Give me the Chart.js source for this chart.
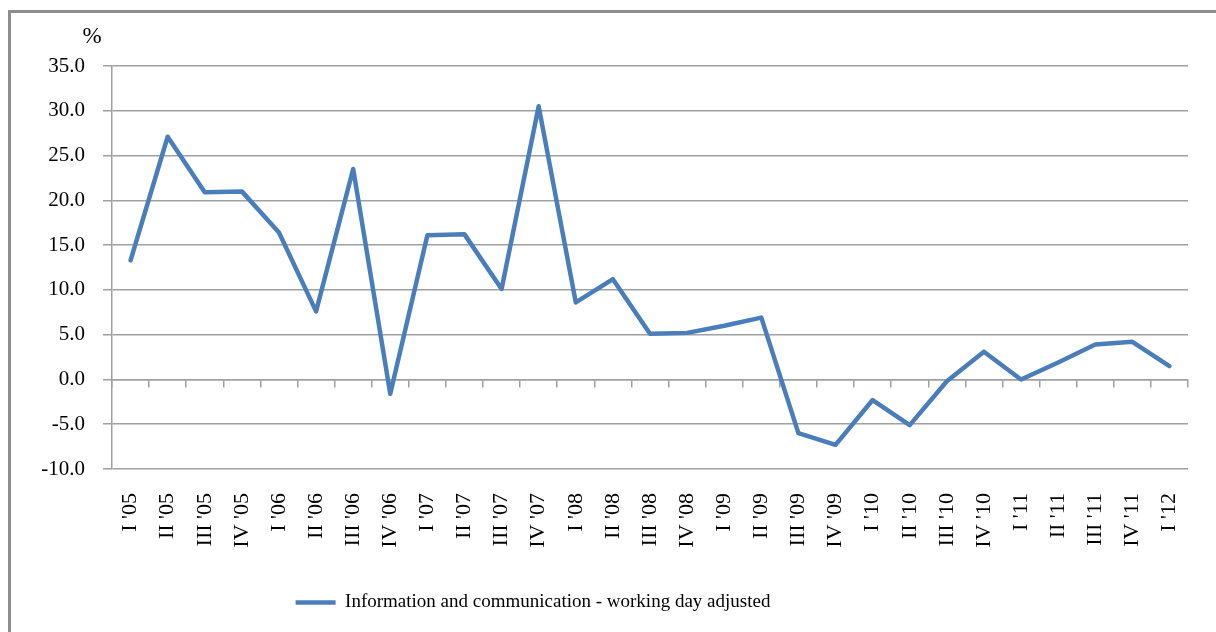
<!DOCTYPE html>
<html>
<head>
    <title>Information and communication</title>
    <script src="https://cdn.jsdelivr.net/npm/chart.js"></script>
    <style>
        html, body { margin: 0; padding: 0; background: #fff; overflow: hidden; }
        #frame { position: absolute; left: 8px; top: 10px; width: 1300px; height: 700px;
                 border-top: 3px solid #8d8d8d; border-left: 3px solid #8d8d8d; }
        #wrap { position: absolute; left: 0; top: 0; width: 1216px; height: 632px; }
    </style>
</head>
<body>
    <div id="frame"></div>
    <div id="wrap"><canvas id="ict-chart"></canvas></div>

    <script>
        const quarters = ["I '05", "II '05", "III '05", "IV '05",
                          "I '06", "II '06", "III '06", "IV '06",
                          "I '07", "II '07", "III '07", "IV '07",
                          "I '08", "II '08", "III '08", "IV '08",
                          "I '09", "II '09", "III '09", "IV '09",
                          "I '10", "II '10", "III '10", "IV '10",
                          "I '11", "II '11", "III '11", "IV '11",
                          "I '12"];
        const growth = [13.3, 27.1, 20.9, 21.0, 16.4, 7.6, 23.5, -1.6,
                        16.1, 16.2, 10.1, 30.5, 8.6, 11.2, 5.1, 5.2,
                        6.0, 6.9, -6.0, -7.3, -2.3, -5.1, -0.2, 3.1,
                        0.0, 1.9, 3.9, 4.2, 1.5];
        const seriesName = 'Information and communication - working day adjusted';
        const unitLabel = '%';

        const gridColor = '#a0a0a0';
        const serif = 'Liberation Serif';

        // draws the "%" above the value axis, and pulls the legend to the left like the original
        const extras = {
            id: 'extras',
            afterLayout(chart) {
                const lg = chart.legend;
                lg.left = 0;
                lg.right = 1066;
            },
            afterDraw(chart) {
                const ctx = chart.ctx;
                const area = chart.chartArea;
                ctx.save();
                ctx.font = '23px "' + serif + '"';
                ctx.fillStyle = '#000';
                ctx.textAlign = 'center';
                ctx.textBaseline = 'middle';
                ctx.fillText(unitLabel, area.left - 20, area.top - 29);
                ctx.restore();
            }
        };

        const ctx = document.getElementById('ict-chart').getContext('2d');
        new Chart(ctx, {
            type: 'line',
            data: {
                labels: quarters,
                datasets: [{
                    label: seriesName,
                    data: growth,
                    borderColor: '#4a7ebb',
                    backgroundColor: '#4a7ebb',
                    borderWidth: 4.5,
                    borderCapStyle: 'round',
                    borderJoinStyle: 'round',
                    pointRadius: 0,
                    tension: 0,
                    fill: false
                }]
            },
            options: {
                responsive: true,
                maintainAspectRatio: false,
                animation: false,
                layout: { padding: { top: 66, right: 28, bottom: 10, left: 0 } },
                scales: {
                    y: {
                        min: -10,
                        max: 35,
                        afterFit: s => { s.width = 112; },
                        ticks: {
                            stepSize: 5,
                            padding: 18,
                            color: '#000',
                            font: { family: serif, size: 21 },
                            callback: v => v.toFixed(1)
                        },
                        grid: { color: gridColor, lineWidth: 1.5, tickLength: 9 },
                        border: { color: gridColor, width: 1.5 }
                    },
                    x: {
                        offset: true,
                        afterFit: s => { s.height = 114; s.paddingLeft = 0; s.paddingRight = 0; },
                        grid: { display: false, drawTicks: false },
                        border: { display: false },
                        ticks: {
                            autoSkip: false,
                            minRotation: 90,
                            maxRotation: 90,
                            padding: 24,
                            color: '#000',
                            font: { family: serif, size: 22 }
                        }
                    },
                    x2: {
                        type: 'category',
                        axis: 'x',
                        labels: quarters,
                        position: { y: 0 },
                        offset: true,
                        ticks: { display: false },
                        grid: { offset: true, drawOnChartArea: false, tickLength: 7,
                                color: gridColor, lineWidth: 1.5 },
                        border: { color: gridColor, width: 1.5 }
                    }
                },
                plugins: {
                    legend: {
                        position: 'bottom',
                        labels: {
                            usePointStyle: true,
                            pointStyle: 'line',
                            pointStyleWidth: 40,
                            color: '#000',
                            font: { family: serif, size: 19 }
                        }
                    },
                    tooltip: { enabled: false }
                }
            },
            plugins: [extras]
        });
    </script>
</body>
</html>
